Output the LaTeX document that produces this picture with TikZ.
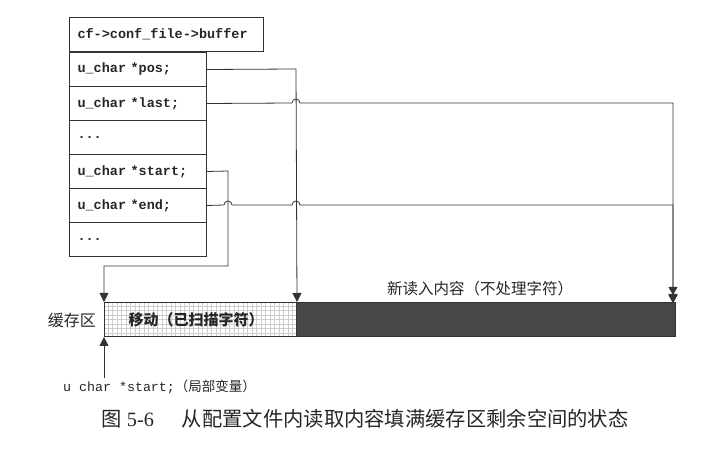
\documentclass[tikz,border=0pt]{standalone}
\usepackage{fontspec}
\setmainfont{Liberation Serif}
\setmonofont{Liberation Mono}
\newfontfamily\cjk{Noto Sans CJK SC}
\usetikzlibrary{arrows.meta}
\begin{document}
\begin{tikzpicture}[x=1pt,y=1pt,
  line/.style={draw=black!80,line width=0.8pt},
  arr/.style={line,-{Triangle[length=9pt,width=9pt]}},
  dblarr/.style={line,-{Triangle[length=8pt,width=9pt]Triangle[length=8pt,width=9pt]}},
  rowbox/.style={draw=black!80,line width=1pt,anchor=north west,minimum height=34pt,
    inner xsep=8pt,inner ysep=0pt,text width=121pt,align=left,
    font=\ttfamily\bfseries\fontsize{13.5}{15}\selectfont,text=black!85},
  headbox/.style={rowbox,text width=178pt},
  cjklabel/.style={font=\cjk\fontsize{15.5}{17}\selectfont,text=black!85,inner sep=0pt}
]
\useasboundingbox (0,0) rectangle (710,450);
% structure boxes
\node[headbox] (head) at (69,433) {cf->conf\_file->buffer};
\node[rowbox] (pos)   at (69,398) {u\_char *pos;};
\node[rowbox] (last)  at (69,364) {u\_char *last;};
\node[rowbox] (dots1) at (69,330) {...};
\node[rowbox] (start) at (69,296) {u\_char *start;};
\node[rowbox] (end)   at (69,262) {u\_char *end;};
\node[rowbox] (dots2) at (69,228) {...};
% buffer
\begin{scope}
  \clip (104,113) rectangle (296,147);
  \draw[black!20,line width=0.5pt,step=4.5] (100,110) grid (300,150);
\end{scope}
\node[draw=black!80,line width=1pt,minimum width=192pt,minimum height=34pt,inner sep=0pt,anchor=south west] (moved) at (104,113) {};
\node[draw=black!80,fill=black!72,line width=1pt,minimum width=379pt,minimum height=34pt,inner sep=0pt,anchor=south west] (newdata) at (296,113) {};
\node[cjklabel,font=\cjk\bfseries\fontsize{15}{17}\selectfont] (movedtxt) at (196,130) {移动（已扫描字符）};
\node[cjklabel] (newtxt) at (480,161) {新读入内容（不处理字符）};
\node[cjklabel,font=\cjk\fontsize{16}{18}\selectfont,anchor=east] (bufname) at (96,130) {缓存区};
% connectors
\draw[arr] (pos.east) -- (296,381) -- (moved.north east);
\draw[dblarr] (last.east) -- (292,347) arc[start angle=180,end angle=0,radius=4] -- (673,347) -- (673,147);
\draw[arr] (start.east) -- (228,279) -- (228,184) -- (104,184) -- (moved.north west);
\draw[arr] (end.east) -- (224,245) arc[start angle=180,end angle=0,radius=4] -- (292,245) arc[start angle=180,end angle=0,radius=4] -- (673,245) -- (673,147);
% local variable
\node[anchor=west,inner sep=0pt,text=black!85] (startvar) at (63,63) {\ttfamily\fontsize{13.3}{15}\selectfont u char *start;\cjk\fontsize{13.5}{15}\selectfont（局部变量）};
\draw[arr] (moved.south west |- startvar.north) ++(0,2) -- (moved.south west);
% caption
\node[inner sep=0pt,text=black!85] (caption) at (365,31) {\fontsize{20.3}{22}\selectfont{\cjk 图} 5-6\hspace{28pt}{\cjk 从配置文件内读取内容填满缓存区剩余空间的状态}};
\end{tikzpicture}
\end{document}
